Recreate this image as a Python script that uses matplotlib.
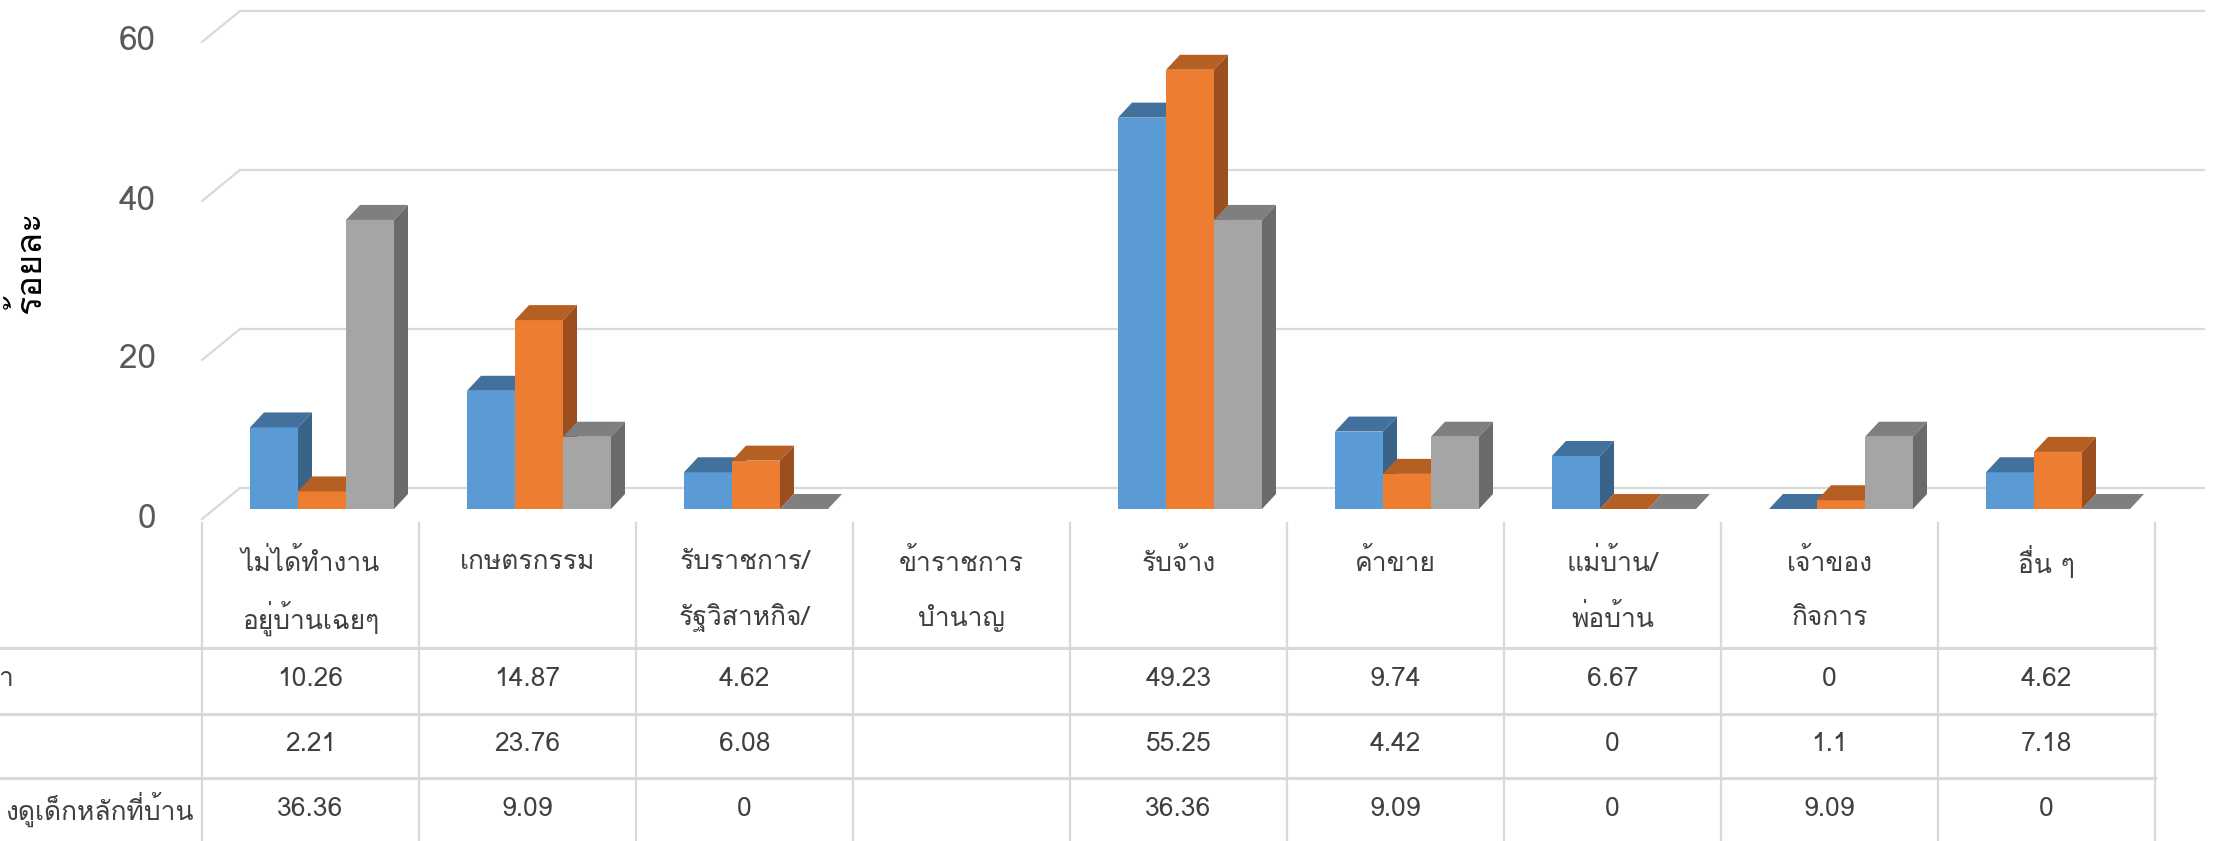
import matplotlib
matplotlib.use('Agg')
import matplotlib.pyplot as plt
from matplotlib.patches import Polygon
from matplotlib import font_manager
from matplotlib.ft2font import FT2Font

# data
categories = ['ไม่ได้ทำงาน\nอยู่บ้านเฉยๆ', 'เกษตรกรรม', 'รับราชการ/\nรัฐวิสาหกิจ/', 'ข้าราชการ\nบำนาญ',
              'รับจ้าง', 'ค้าขาย', 'แม่บ้าน/\nพ่อบ้าน', 'เจ้าของ\nกิจการ', 'อื่น ๆ']
series1 = [10.26, 14.87, 4.62, None, 49.23, 9.74, 6.67, 0, 4.62]
series2 = [2.21, 23.76, 6.08, None, 55.25, 4.42, 0, 1.1, 7.18]
series3 = [36.36, 9.09, 0, None, 36.36, 9.09, 0, 9.09, 0]
row_labels = ['า', '', 'งดูเด็กหลักที่บ้าน']
yticks = [0, 20, 40, 60]
ylabel = 'ร้อยละ'

front = ['#5B9BD5', '#ED7D31', '#A5A5A5']
top = ['#41719C', '#B65F23', '#7F7F7F']
side = ['#3A6389', '#9C4F1E', '#6B6B6B']


# find a font with thai glyphs
def thai_font():
    for f in font_manager.fontManager.ttflist:
        try:
            if 0x0E01 in FT2Font(f.fname).get_charmap():
                return f.name
        except Exception:
            pass
    return None

tf = thai_font()
fams = [tf, 'DejaVu Sans'] if tf else ['DejaVu Sans']
plt.rcParams['font.family'] = fams

W, H = 2218, 841
PXU = 217.0     # pixels per category
PXV = 7.95      # pixels per percent
X0 = 310.5      # pixel of first category centre
Y0 = 509.0      # pixel row of the bar bases

fig = plt.figure(figsize=(W / 100, H / 100), dpi=100)
ax = fig.add_axes([0, 0, 1, 1])
ax.set_xlim(-X0 / PXU, (W - X0) / PXU)
ax.set_ylim(-(H - Y0) / PXV, Y0 / PXV)
ax.axis('off')


def xpx(p):
    return (p - X0) / PXU


def ypx(p):
    return (Y0 - p) / PXV


# back wall gridlines
wall = 21 / PXV
diag = 31 / PXV
for g in yticks:
    ax.plot([xpx(240), xpx(2204)], [g + wall, g + wall], color='#D9D9D9', lw=1.6, zorder=1)
    ax.plot([xpx(202), xpx(240)], [g + wall - diag, g + wall], color='#D9D9D9', lw=1.6, zorder=1)
    ax.text(xpx(156), g + wall - diag, str(g), ha='right', va='center',
            fontsize=24, color='#595959', fontweight='light')

ax.text(xpx(28), ypx(262), ylabel, rotation=90, ha='center', va='center', fontsize=26, color='#000000')

# 3d-looking bars
w = 48 / PXU
dx = 14 / PXU
dy = 15 / PXV
shift = 11.5 / PXU
for i in range(len(categories)):
    for j, s in enumerate([series1, series2, series3]):
        v = s[i]
        if v is None:
            continue
        xl = i + shift + (j - 1) * w - w / 2
        xr = xl + w
        ax.bar(xl + w / 2, v, width=w, color=front[j], zorder=3 + i * 3 + j)
        ax.add_patch(Polygon([(xl, v), (xr, v), (xr + dx, v + dy), (xl + dx, v + dy)],
                             closed=True, facecolor=top[j], edgecolor='none', zorder=3 + i * 3 + j))
        ax.add_patch(Polygon([(xr, 0), (xr + dx, dy), (xr + dx, v + dy), (xr, v)],
                             closed=True, facecolor=side[j], edgecolor='none', zorder=3 + i * 3 + j))

# data table
grid = '#D9D9D9'
for k in range(len(categories) + 1):
    ax.plot([k - 0.5, k - 0.5], [ypx(523), ypx(H)], color=grid, lw=1.6, zorder=1)
for p in [648, 714, 778]:
    ax.plot([xpx(0), len(categories) - 0.5], [ypx(p), ypx(p)], color=grid, lw=2.2, zorder=1)

tsize = 19
for i, c in enumerate(categories):
    for n, line in enumerate(c.split('\n')):
        ax.text(i, ypx(562 + 56 * n), line, ha='center', va='center', fontsize=tsize, color='#404040')

rows_y = [679, 744, 809]
for r, s in enumerate([series1, series2, series3]):
    for i, v in enumerate(s):
        if v is None:
            continue
        ax.text(i, ypx(rows_y[r]), '{:g}'.format(v), ha='center', va='center', fontsize=tsize, color='#404040')

ax.text(xpx(13), ypx(rows_y[0]), row_labels[0], ha='right', va='center', fontsize=tsize, color='#404040')
ax.text(xpx(194), ypx(rows_y[2]), row_labels[2], ha='right', va='center', fontsize=tsize, color='#404040')

fig.savefig('out.png', dpi=100)
